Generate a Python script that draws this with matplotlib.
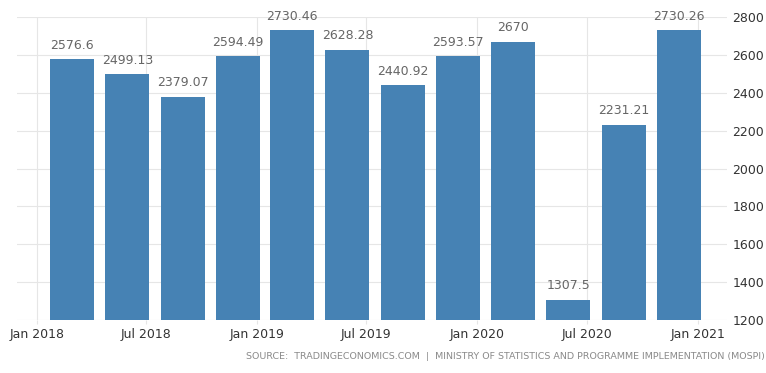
import matplotlib
matplotlib.use("Agg")
import matplotlib.pyplot as plt
import pandas as pd

dates = ["2018-02-28", "2018-05-31", "2018-08-31", "2018-11-30",
         "2019-02-28", "2019-05-31", "2019-08-31", "2019-11-30",
         "2020-02-29", "2020-05-31", "2020-08-31", "2020-11-30"]
values = [2576.6, 2499.13, 2379.07, 2594.49, 2730.46, 2628.28, 2440.92,
          2593.57, 2670, 1307.5, 2231.21, 2730.26]
labels = ["2576.6", "2499.13", "2379.07", "2594.49", "2730.46", "2628.28",
          "2440.92", "2593.57", "2670", "1307.5", "2231.21", "2730.26"]
tick_dates = ["2018-01-01", "2018-07-01", "2019-01-01", "2019-07-01",
              "2020-01-01", "2020-07-01", "2021-01-01"]
tick_labels = ["Jan 2018", "Jul 2018", "Jan 2019", "Jul 2019",
               "Jan 2020", "Jul 2020", "Jan 2021"]
yticks = [1200, 1400, 1600, 1800, 2000, 2200, 2400, 2600, 2800]

x = pd.to_datetime(dates)
xt = pd.to_datetime(tick_dates)

fig = plt.figure(figsize=(7.66, 3.73), dpi=100)
ax = fig.add_axes([0.022, 0.142, 0.927, 0.812])

ax.bar(x, [v - 1200 for v in values], bottom=1200, width=73,
       color="#4682b4", zorder=3)
for xi, v, lab in zip(x, values, labels):
    ax.annotate(lab, (xi, v), xytext=(0, 10), textcoords="offset points",
                ha="center", va="center", fontsize=9, color="#666666",
                zorder=4, annotation_clip=False)

ax.set_ylim(1200, 2800)
ax.set_xlim(pd.Timestamp("2017-11-29"), pd.Timestamp("2021-02-18"))
ax.set_yticks(yticks)
ax.set_xticks(xt)
ax.set_xticklabels(tick_labels)
ax.yaxis.tick_right()
ax.grid(True, color="#e6e6e6", linewidth=0.8, zorder=0)
for s in ax.spines.values():
    s.set_visible(False)
ax.tick_params(axis="y", length=0, pad=4, labelsize=9, labelcolor="#333333")
ax.tick_params(axis="x", length=3, color="#e6e6e6", pad=3, labelsize=9,
               labelcolor="#333333")

fig.text(0.998, 0.045,
         "SOURCE:  TRADINGECONOMICS.COM  |  MINISTRY OF STATISTICS AND PROGRAMME IMPLEMENTATION (MOSPI)",
         ha="right", va="center", fontsize=6.8, color="#8a8a8a")

fig.savefig("out.png", dpi=100)
